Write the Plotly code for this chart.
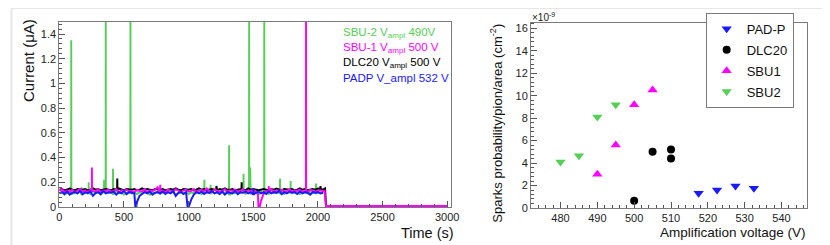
import plotly.graph_objects as go

# ---------------- Left panel: current vs time ----------------
t_grid = list(range(0, 2041, 20))

sbu2_base = [0.11,0.12,0.10,0.115,0.13,0.105,0.12,0.11,0.14,0.10,
             0.115,0.12,0.105,0.13,0.11,0.12,0.10,0.125,0.11,0.115,
             0.12,0.105,0.13,0.11,0.12,0.10,0.115,0.125,0.11,0.12,
             0.105,0.12,0.11,0.13,0.115,0.10,0.12,0.11,0.125,0.105,
             0.12,0.11,0.13,0.115,0.12,0.10,0.11,0.125,0.115,0.12,
             0.105,0.12,0.11,0.13,0.12,0.105,0.115,0.12,0.11,0.125,
             0.11,0.12,0.105,0.13,0.115,0.12,0.10,0.12,0.11,0.125,
             0.115,0.12,0.105,0.13,0.11,0.12,0.115,0.10,0.125,0.11,
             0.12,0.105,0.13,0.115,0.12,0.11,0.125,0.105,0.12,0.115,
             0.11,0.13,0.12,0.105,0.115,0.12,0.11,0.125,0.12,0.11,
             0.12,0.115,0.11]
sbu2_spike_t = [92, 172, 227, 346, 359, 415, 550, 1122, 1170, 1313, 1425, 1468, 1476, 1585, 1707, 1789, 1985]
sbu2_spike_v = [1.35, 0.16, 0.20, 0.22, 1.60, 0.31, 1.60, 0.22, 0.18, 0.50, 0.27, 1.60, 0.32, 1.60, 0.23, 0.21, 0.19]
sbu2_extra_t = []
sbu2_extra_v = []

dlc_base = [0.14,0.145,0.135,0.14,0.15,0.14,0.135,0.145,0.14,0.14,
            0.145,0.135,0.14,0.15,0.14,0.145,0.135,0.14,0.145,0.14,
            0.135,0.145,0.14,0.15,0.14,0.135,0.145,0.14,0.14,0.145,
            0.135,0.14,0.15,0.14,0.145,0.14,0.135,0.145,0.14,0.14,
            0.145,0.135,0.14,0.145,0.14,0.15,0.14,0.135,0.145,0.14,
            0.14,0.145,0.135,0.14,0.15,0.14,0.145,0.135,0.14,0.145,
            0.14,0.135,0.145,0.14,0.15,0.14,0.14,0.145,0.135,0.14,
            0.145,0.14,0.135,0.15,0.14,0.145,0.14,0.135,0.14,0.145,
            0.14,0.135,0.145,0.14,0.15,0.14,0.135,0.145,0.14,0.14,
            0.145,0.135,0.14,0.15,0.14,0.145,0.135,0.14,0.145,0.14,
            0.15,0.145,0.14]
dlc_spike_t = [448, 1215, 1410, 2020]
dlc_spike_v = [0.23, 0.17, 0.20, 0.17]
dlc_extra_t = [2055, 2063, 3000]
dlc_extra_v = [0.15, 0.005, 0.005]

sbu1_base = [0.13,0.145,0.12,0.135,0.125,0.14,0.12,0.13,0.145,0.125,
             0.135,0.12,0.14,0.13,0.125,0.145,0.12,0.135,0.13,0.14,
             0.125,0.13,0.145,0.12,0.135,0.13,0.14,0.125,0.13,0.12,
             0.14,0.13,0.125,0.145,0.12,0.135,0.13,0.14,0.16,0.125,
             0.135,0.12,0.14,0.13,0.125,0.145,0.13,0.12,0.135,0.14,
             0.125,0.13,0.145,0.12,0.135,0.14,0.125,0.15,0.13,0.12,
             0.14,0.135,0.125,0.13,0.145,0.12,0.135,0.13,0.14,0.125,
             0.13,0.145,0.12,0.135,0.13,0.14,0.12,0.0,0.05,0.11,
             0.13,0.125,0.145,0.12,0.135,0.13,0.14,0.125,0.13,0.145,
             0.12,0.135,0.13,0.14,0.125,0.13,0.12,0.14,0.135,0.125,
             0.13,0.135,0.125]
sbu1_spike_t = [252, 780, 1620, 1908]
sbu1_spike_v = [0.32, 0.18, 0.17, 1.60]
sbu1_extra_t = [1535, 1550, 2052, 2062, 3000]
sbu1_extra_v = [0.12, 0.0, 0.13, 0.008, 0.008]

padp_base = [0.11,0.12,0.105,0.125,0.10,0.115,0.12,0.11,0.13,0.105,
             0.12,0.11,0.125,0.09,0.115,0.12,0.105,0.13,0.11,0.12,
             0.115,0.125,0.10,0.12,0.11,0.13,0.105,0.12,0.115,0.11,
             0.04,0.09,0.105,0.12,0.11,0.125,0.10,0.115,0.12,0.11,
             0.125,0.105,0.12,0.11,0.13,0.09,0.115,0.12,0.105,0.12,
             0.0,0.06,0.10,0.12,0.11,0.125,0.105,0.12,0.115,0.13,
             0.11,0.12,0.105,0.125,0.10,0.12,0.115,0.11,0.13,0.105,
             0.12,0.115,0.125,0.11,0.12,0.10,0.115,0.125,0.11,0.12,
             0.105,0.125,0.11,0.12,0.115,0.13,0.105,0.12,0.11,0.125,
             0.115,0.12,0.105,0.125,0.11,0.12,0.115,0.10,0.12,0.115,
             0.12,0.11,0.115]
padp_spike_t = [1500]
padp_spike_v = [0.15]
padp_extra_t = [588, 595, 992]
padp_extra_v = [0.0, 0.0, 0.0]

# ---------------- Right panel: spark probability ----------------
padp_volt = [517.5, 522.5, 527.5, 532.5]
padp_prob = [1.3, 1.6, 1.95, 1.75]
dlc_volt = [500, 505, 510, 510]
dlc_prob = [0.65, 5.0, 5.2, 4.4]
sbu1_volt = [490, 495, 500, 505]
sbu1_prob = [3.0, 5.6, 9.2, 10.5]
sbu2_volt = [480, 485, 490, 495]
sbu2_prob = [4.1, 4.65, 8.1, 9.2]

GREEN = "#55cf55"
MAGENTA = "#ff00ff"
BLACK = "#000000"
BLUE = "#1a1aff"


def build(base, spike_t, spike_v, extra_t, extra_v):
    pts = list(zip(t_grid, base)) + list(zip(extra_t, extra_v))
    for t, v in zip(spike_t, spike_v):
        i = min(range(len(t_grid)), key=lambda k: abs(t_grid[k] - t))
        foot = base[i]
        pts += [(t - 1, foot), (t, v), (t + 1, foot)]
    pts.sort()
    return [p[0] for p in pts], [p[1] for p in pts]


W, H = 830, 245
def px(x):
    return x / W
def py(y):
    return 1 - y / H

fig = go.Figure()

for name, base, st, sv, et, ev, col, wd in [
    ("SBU-2", sbu2_base, sbu2_spike_t, sbu2_spike_v, sbu2_extra_t, sbu2_extra_v, GREEN, 1.9),
    ("DLC20", dlc_base, dlc_spike_t, dlc_spike_v, dlc_extra_t, dlc_extra_v, BLACK, 2.0),
    ("SBU-1", sbu1_base, sbu1_spike_t, sbu1_spike_v, sbu1_extra_t, sbu1_extra_v, MAGENTA, 1.9),
    ("PADP", padp_base, padp_spike_t, padp_spike_v, padp_extra_t, padp_extra_v, BLUE, 2.0),
]:
    x, y = build(base, st, sv, et, ev)
    fig.add_trace(go.Scatter(x=x, y=y, mode="lines", line=dict(color=col, width=wd),
                             showlegend=False, xaxis="x", yaxis="y", hoverinfo="skip"))

for name, vx, vy, sym, col in [
    ("PAD-P", padp_volt, padp_prob, "triangle-down", BLUE),
    ("DLC20", dlc_volt, dlc_prob, "circle", BLACK),
    ("SBU1", sbu1_volt, sbu1_prob, "triangle-up", MAGENTA),
    ("SBU2", sbu2_volt, sbu2_prob, "triangle-down", GREEN),
]:
    fig.add_trace(go.Scatter(x=vx, y=vy, mode="markers", name=name, legendgroup=name,
                             marker=dict(symbol=sym, color=col, size=9 if sym != "circle" else 8,
                                         line=dict(width=0)),
                             xaxis="x2", yaxis="y2"))

tickfont = dict(family="Liberation Sans, Arial, sans-serif", size=11, color="#222")
axcommon = dict(showgrid=False, zeroline=False, showline=True, linecolor="#7a7a7a", linewidth=1,
                mirror=True, ticks="inside", tickcolor="#555", tickfont=tickfont)

fig.update_layout(
    width=W, height=H, margin=dict(l=0, r=0, t=0, b=0),
    paper_bgcolor="white", plot_bgcolor="white",
    font=dict(family="Liberation Sans, Arial, sans-serif", color="#111"),
    xaxis=dict(domain=[px(49), px(446)], range=[0, 3030], dtick=500, ticklen=6,
               minor=dict(dtick=100, ticks="inside", ticklen=3, tickcolor="#555"),
               anchor="y", **axcommon),
    yaxis=dict(domain=[py(204), py(14)], range=[0, 1.5], dtick=0.2, ticklen=6,
               minor=dict(dtick=0.04, ticks="inside", ticklen=3, tickcolor="#555"),
               anchor="x", **axcommon),
    xaxis2=dict(domain=[px(527), px(807)], range=[472, 547], dtick=10, tick0=480, ticklen=6,
                minor=dict(dtick=2, ticks="inside", ticklen=3, tickcolor="#555"),
                anchor="y2", **axcommon),
    yaxis2=dict(domain=[py(205), py(15)], range=[0, 16.5], dtick=2, ticklen=6,
                minor=dict(dtick=0.4, ticks="inside", ticklen=3, tickcolor="#555"),
                anchor="x2", **axcommon),
    legend=dict(x=px(704), y=py(5), xanchor="left", yanchor="top",
                bordercolor="#7a7a7a", borderwidth=1, bgcolor="white",
                font=dict(size=13, color="#111"), tracegroupgap=1,
                traceorder="grouped", itemwidth=30),
)

ann = []
# left legend (text only)
for i, (txt, col) in enumerate([
    ("SBU-2 V<sub>ampl</sub> 490V", GREEN),
    ("SBU-1 V<sub>ampl</sub> 500 V", MAGENTA),
    ("DLC20 V<sub>ampl</sub> 500 V", BLACK),
    ("PADP V_ampl 532 V", BLUE),
]):
    ann.append(dict(text=txt, x=px(334), y=py(25.7 + 15.3 * i), xref="paper", yref="paper",
                    xanchor="left", yanchor="middle", showarrow=False,
                    font=dict(size=11.5, color=col)))
# axis titles
ann.append(dict(text="Current (μA)", x=px(18), y=py(9), xref="paper", yref="paper",
                xanchor="center", yanchor="top", textangle=-90, showarrow=False,
                font=dict(size=15, color="#111")))
ann.append(dict(text="Time (s)", x=px(451), y=py(231), xref="paper", yref="paper",
                xanchor="right", yanchor="middle", showarrow=False,
                font=dict(size=14.5, color="#111")))
ann.append(dict(text="Sparks probability/pion/area (cm<sup>-2</sup>)", x=px(492), y=py(14),
                xref="paper", yref="paper", xanchor="center", yanchor="top", textangle=-90,
                showarrow=False, font=dict(size=13, color="#111")))
ann.append(dict(text="Amplification voltage (V)", x=px(808), y=py(230), xref="paper", yref="paper",
                xanchor="right", yanchor="middle", showarrow=False,
                font=dict(size=13.5, color="#111")))
ann.append(dict(text="×10<sup>-9</sup>", x=px(526), y=py(9), xref="paper", yref="paper",
                xanchor="left", yanchor="middle", showarrow=False,
                font=dict(size=10, color="#222")))
fig.update_layout(annotations=ann)

# faint page frame (top and left edges)
fig.add_shape(type="line", xref="paper", yref="paper", x0=0, x1=1, y0=py(0.5), y1=py(0.5),
              line=dict(color="#e6e6e6", width=1))
fig.add_shape(type="line", xref="paper", yref="paper", x0=px(0.5), x1=px(0.5), y0=0, y1=1,
              line=dict(color="#e6e6e6", width=2))

fig.write_html("out.html")
